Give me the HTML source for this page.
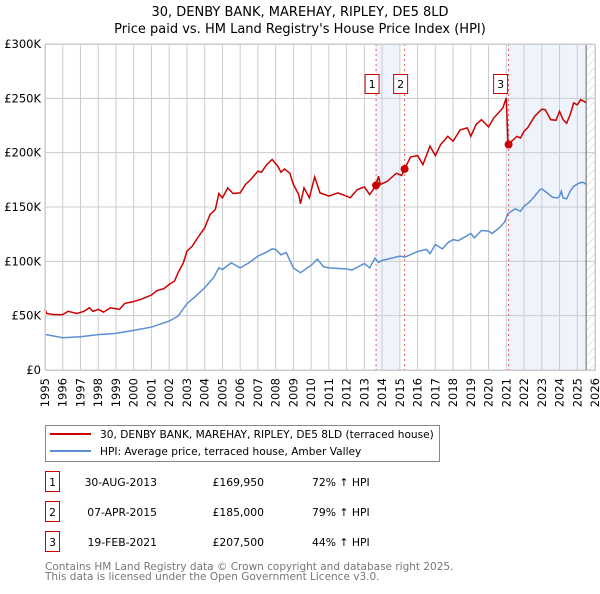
<!DOCTYPE html>
<html><head><meta charset="utf-8"><style>
body{margin:0;background:#fff;font-family:"DejaVu Sans","Liberation Sans",sans-serif;}
svg text{font-family:"DejaVu Sans","Liberation Sans",sans-serif;}
</style></head><body>
<svg id="chart" width="600" height="590" xmlns="http://www.w3.org/2000/svg">
<defs><pattern id="hatch" width="6" height="6" patternUnits="userSpaceOnUse" patternTransform="rotate(45)"><line x1="0" y1="0" x2="0" y2="6" stroke="#ccc" stroke-width="1"/></pattern></defs>
<text x="300" y="16" text-anchor="middle" font-size="13">30, DENBY BANK, MAREHAY, RIPLEY, DE5 8LD</text>
<text x="300" y="33" text-anchor="middle" font-size="13">Price paid vs. HM Land Registry's House Price Index (HPI)</text>
<g id="plot"></g>
<g>
<rect x="45.5" y="425.5" width="394" height="36" fill="#fff" stroke="#888"/>
<line x1="50" y1="434" x2="91" y2="434" stroke="#cc0000" stroke-width="2"/>
<text x="100" y="438" font-size="10.6">30, DENBY BANK, MAREHAY, RIPLEY, DE5 8LD (terraced house)</text>
<line x1="50" y1="451" x2="91" y2="451" stroke="#5b8fd4" stroke-width="2"/>
<text x="100" y="455" font-size="10.6">HPI: Average price, terraced house, Amber Valley</text>
</g>
<g id="table" font-size="10.8"></g>
<text x="45" y="570" font-size="10.5" fill="#777">Contains HM Land Registry data © Crown copyright and database right 2025.</text>
<text x="45" y="580" font-size="10.5" fill="#777">This data is licensed under the Open Government Licence v3.0.</text>
</svg>
<script>
const hpiYears=[1995,1996,1997,1998,1999,2000,2001,2002,2002.5,2003,2003.5,2004,2004.5,2004.8,2005,2005.5,2006,2006.5,2007,2007.5,2007.8,2008,2008.3,2008.6,2009,2009.4,2010.05,2010.35,2010.7,2011,2012,2012.3,2013,2013.3,2013.6,2013.8,2014,2015,2015.3,2016,2016.5,2016.7,2017,2017.4,2017.7,2018,2018.3,2019,2019.2,2019.6,2020,2020.2,2020.6,2020.9,2021.1,2021.5,2021.8,2022,2022.3,2022.6,2022.9,2023,2023.3,2023.6,2023.9,2024,2024.1,2024.2,2024.4,2024.6,2024.8,2025.1,2025.3,2025.5];
const hpiValues=[32.8,29.7,30.6,32.5,33.7,36.5,39.5,45,49.6,61,68,75.7,85,94,92.5,98.7,94,98.7,104.8,108.5,111.5,111,106,108,94,89.5,97,102,95,94,93,92,98,94,103,99,100.8,104.8,104,109,111,107,115.5,111.5,117,120,119,125.6,121.6,128.4,127.8,125.6,130.8,136,144,148.3,146,150.8,154.4,160,166,166.7,163,159,158.4,160,164.5,158.4,157.5,164.5,169,172,172.8,171];
const priceYears=[1995,1995.1,1995.5,1996,1996.3,1996.8,1997.2,1997.5,1997.7,1998,1998.3,1998.7,1999,1999.2,1999.5,2000,2000.5,2001,2001.3,2001.7,2002,2002.3,2002.5,2002.8,2003,2003.3,2003.6,2004,2004.3,2004.6,2004.8,2005,2005.3,2005.6,2006,2006.3,2006.6,2007,2007.2,2007.5,2007.8,2008.1,2008.3,2008.5,2008.8,2009,2009.3,2009.4,2009.6,2009.9,2010.2,2010.5,2011,2011.5,2012,2012.2,2012.6,2013,2013.3,2013.66,2013.8,2013.9,2014.3,2014.8,2015.1,2015.27,2015.6,2016,2016.3,2016.7,2017,2017.3,2017.7,2018,2018.4,2018.8,2019,2019.3,2019.6,2020,2020.3,2020.8,2021.0,2021.1,2021.4,2021.6,2021.8,2022,2022.2,2022.6,2023,2023.2,2023.5,2023.8,2024,2024.2,2024.4,2024.6,2024.8,2025,2025.2,2025.5];
const priceValues=[55.8,52,51,51,54,52,54,57.3,54,55.8,53.3,57.3,56.4,55.8,61.3,63,65.6,69,73,74.8,78.8,81.8,89.5,98.7,109.4,114,121.6,130.8,143,147.7,162.4,158.4,167.6,162.4,163,170.7,175.3,183,182,189,193.7,188,182,185,181,170.7,161.5,153,167.6,158.4,177.7,163,160,163,160,158.4,166,168.5,161.5,169.95,178.3,170.7,173.8,181,179,185,196,197.3,189,206,197.3,207.5,215,210.5,221,222.8,215,226,230.4,223.7,232,241,250.3,207.5,212,215,213.5,219.7,222.8,233.5,240,239.6,230.4,229.8,238,230.4,227,235,245.8,244,248.8,246];
const saleIds=["1","2","3"];
const saleYears=[2013.66,2015.27,2021.13];
const saleValues=[169.95,185,207.5];
const saleDates=["30-AUG-2013","07-APR-2015","19-FEB-2021"];
const salePrices=["£169,950","£185,000","£207,500"];
const saleHpi=["72% ↑ HPI","79% ↑ HPI","44% ↑ HPI"];
const yTicks=[0,50,100,150,200,250,300];
const yTickLabels=["£0","£50K","£100K","£150K","£200K","£250K","£300K"];
const xTicks=[];for(let y=1995;y<=2026;y++)xTicks.push(y);

const X0=45,X1=595,Y0=370,Y1=44;
const xs=y=>X0+(y-1995)/(2026-1995)*(X1-X0);
const ys=v=>Y0-v/300*(Y0-Y1);
const NS="http://www.w3.org/2000/svg";
const plot=document.getElementById('plot');
function mk(tag,attrs,parent){const e=document.createElementNS(NS,tag);for(const k in attrs)e.setAttribute(k,attrs[k]);(parent||plot).appendChild(e);return e;}
let e;
e=mk('rect',{x:X0,y:Y1,width:X1-X0,height:Y0-Y1,fill:'#fff'});


e=mk('rect',{x:xs(saleYears[0]),y:Y1,width:xs(2015)-xs(saleYears[0]),height:Y0-Y1,fill:'#eef3fc'});


e=mk('rect',{x:xs(saleYears[2]),y:Y1,width:xs(2025.5)-xs(saleYears[2]),height:Y0-Y1,fill:'#eef3fc'});


e=mk('rect',{x:xs(2025.5),y:Y1,width:X1-xs(2025.5),height:Y0-Y1,fill:'url(#hatch)'});


xTicks.forEach(t=>{
 e=mk('line',{x1:xs(t),x2:xs(t),y1:Y1,y2:Y0,stroke:'#ccc','stroke-width':1});
 
 
 e=mk('text',{x:0,y:0,'font-size':11.5,'text-anchor':'end',transform:`translate(${xs(t)+4},${Y0+8}) rotate(-90)`});
 e.textContent=t;
 
 
});
yTicks.forEach((t,i)=>{
 e=mk('line',{x1:X0,x2:X1,y1:ys(t),y2:ys(t),stroke:'#ccc','stroke-width':1});
 
 
 e=mk('text',{x:41,y:ys(t)+4,'font-size':11.5,'text-anchor':'end'});
 e.textContent=yTickLabels[i];
 
 
});
e=mk('line',{x1:xs(2025.5),x2:xs(2025.5),y1:Y1,y2:Y0,stroke:'#666','stroke-width':1});


saleYears.forEach((y,i)=>{
 e=mk('line',{x1:xs(y),x2:xs(y),y1:Y1,y2:Y0,stroke:'#ee5555','stroke-width':1,'stroke-dasharray':'2,3'});
 
 
});
e=mk('polyline',{points:hpiYears.map((y,i)=>xs(y)+','+ys(hpiValues[i])).join(' '),fill:'none',stroke:'#5b8fd4','stroke-width':1.5});


e=mk('polyline',{points:priceYears.map((y,i)=>xs(y)+','+ys(priceValues[i])).join(' '),fill:'none',stroke:'#cc0000','stroke-width':1.5});


saleYears.forEach((y,i)=>{
 e=mk('circle',{cx:xs(y),cy:ys(saleValues[i]),r:4,fill:'#cc0000'});
 
 
 const bx=xs(y)-(i==2?4:0);
 e=mk('rect',{x:bx-11,y:74.5,width:14,height:19,fill:'#fff',stroke:'#cc0000'});
 
 
 e=mk('text',{x:bx-4,y:88,'font-size':11,'text-anchor':'middle'});
 e.textContent=saleIds[i];
 
 
});
e=mk('rect',{x:X0+0.5,y:Y1+0.5,width:X1-X0,height:Y0-Y1,fill:'none',stroke:'#ccc'});


const tbl=document.getElementById('table');
saleIds.forEach((id,i)=>{
 const cy=483+i*30;
 e=mk('rect',{x:45.5,y:cy-11.5,width:14,height:20,fill:'#fff',stroke:'#cc0000'},tbl);
 
 
 e=mk('text',{x:52.5,y:cy+3,'text-anchor':'middle'},tbl);e.textContent=id;
 
 
 e=mk('text',{x:157,y:cy+3,'text-anchor':'end'},tbl);e.textContent=saleDates[i];
 
 
 e=mk('text',{x:264,y:cy+3,'text-anchor':'end'},tbl);e.textContent=salePrices[i];
 
 
 e=mk('text',{x:312,y:cy+3},tbl);e.textContent=saleHpi[i];
 
 
});
</script>
</body></html>
